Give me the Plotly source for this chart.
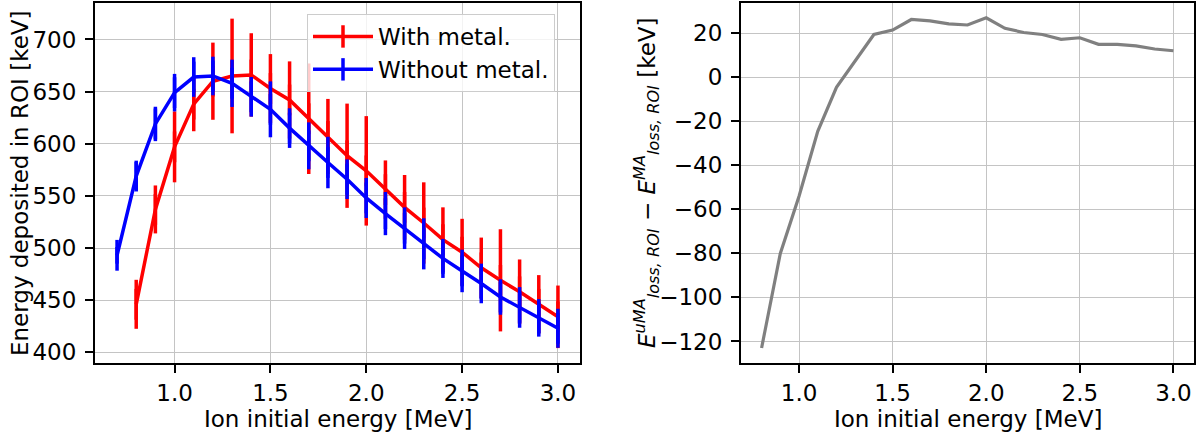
import plotly.graph_objects as go
from plotly.subplots import make_subplots

# ---- data ----
energy_with = [0.8, 0.9, 1.0, 1.1, 1.2, 1.3, 1.4, 1.5, 1.6, 1.7, 1.8, 1.9, 2.0,
               2.1, 2.2, 2.3, 2.4, 2.5, 2.6, 2.7, 2.8, 2.9, 3.0]
with_metal = [446, 537, 597, 638, 660, 665, 666, 653, 642, 624, 607, 588.5, 574,
              556, 539, 524, 508, 496, 481, 469, 458, 446, 434]
with_metal_err = [23.5, 23, 34, 26, 37, 55, 40, 33, 37, 53, 36, 50, 52.5,
                  28, 31, 39, 31, 32, 29, 49, 31, 28, 30]

energy_without = [0.7, 0.8, 0.9, 1.0, 1.1, 1.2, 1.3, 1.4, 1.5, 1.6, 1.7, 1.8, 1.9,
                  2.0, 2.1, 2.2, 2.3, 2.4, 2.5, 2.6, 2.7, 2.8, 2.9, 3.0]
without_metal = [493, 569, 619, 649, 664, 665, 658, 645, 633, 615, 598, 582, 566,
                 548, 533, 519, 504, 490, 478, 466, 453, 443, 433, 423]
without_metal_err = [8, 13.5, 16.5, 18, 19, 18.5, 22.7, 19, 26.8, 19, 22.5, 24.7, 19,
                     19.2, 20.7, 20, 24.5, 18.7, 20.4, 19, 17, 19.5, 18, 18.7]

energy_diff = [0.8, 0.9, 1.0, 1.1, 1.2, 1.3, 1.4, 1.5, 1.6, 1.7, 1.8, 1.9, 2.0,
               2.1, 2.2, 2.3, 2.4, 2.5, 2.6, 2.7, 2.8, 2.9, 3.0]
diff_values = [-123, -80, -54, -24.5, -4.5, 7.2, 19.5, 21.5, 26.3, 25.7, 24.3, 23.8, 27.1,
               22.3, 20.4, 19.5, 17.3, 18, 15, 15, 14.3, 12.9, 12.1]

W, H = 1198, 437
FONT = "DejaVu Sans"
FS = 23
LW = 3.5

fig = make_subplots(rows=1, cols=2)

fig.add_trace(go.Scatter(
    x=energy_with, y=with_metal, name="With metal.", mode="lines+markers",
    line=dict(color="#ff0000", width=LW),
    marker=dict(symbol="line-ns", size=22, color="#ff0000",
                line=dict(color="#ff0000", width=LW)),
    error_y=dict(type="data", array=with_metal_err, visible=True,
                 color="#ff0000", thickness=LW, width=0),
), row=1, col=1)

fig.add_trace(go.Scatter(
    x=energy_without, y=without_metal, name="Without metal.", mode="lines+markers",
    line=dict(color="#0000ff", width=LW),
    marker=dict(symbol="line-ns", size=22, color="#0000ff",
                line=dict(color="#0000ff", width=LW)),
    error_y=dict(type="data", array=without_metal_err, visible=True,
                 color="#0000ff", thickness=LW, width=0),
), row=1, col=1)

fig.add_trace(go.Scatter(
    x=energy_diff, y=diff_values, mode="lines", showlegend=False,
    line=dict(color="#808080", width=3.2),
), row=1, col=2)

axis_common = dict(
    showline=True, linecolor="black", linewidth=2, mirror=True,
    ticks="outside", ticklen=8, tickwidth=2, tickcolor="black",
    showgrid=True, gridcolor="#c4c4c4", gridwidth=1, zeroline=False,
    tickfont=dict(family=FONT, size=FS, color="black"),
    automargin=False,
)

y0 = 1 - 363 / H
y1 = 1 - 3 / H
fig.update_xaxes(**axis_common)
fig.update_yaxes(**axis_common)
fig.update_xaxes(ticklabelstandoff=0)
fig.update_yaxes(ticklabelstandoff=4)
fig.update_layout(
    template="none",
    xaxis=dict(domain=[95 / W, 580 / W], range=[0.585, 3.115],
               tickvals=[1.0, 1.5, 2.0, 2.5, 3.0], tickformat=".1f"),
    yaxis=dict(domain=[y0, y1], range=[389.7, 735], dtick=50, tick0=400),
    xaxis2=dict(domain=[741 / W, 1194 / W], range=[0.69, 3.11],
                tickvals=[1.0, 1.5, 2.0, 2.5, 3.0], tickformat=".1f"),
    yaxis2=dict(domain=[y0, y1], range=[-129.8, 33.8], dtick=20, tick0=0),
)

ann_font = dict(family=FONT, size=FS, color="black")
annotations = [
    dict(text="Ion initial energy [MeV]", x=(95 + 580) / 2 / W, y=1 - 419 / H,
         xref="paper", yref="paper", showarrow=False, font=ann_font,
         xanchor="center", yanchor="middle"),
    dict(text="Ion initial energy [MeV]", x=(741 + 1194) / 2 / W, y=1 - 419 / H,
         xref="paper", yref="paper", showarrow=False, font=ann_font,
         xanchor="center", yanchor="middle"),
    dict(text="Energy deposited in ROI [keV]", x=20 / W, y=1 - 183 / H,
         xref="paper", yref="paper", showarrow=False, font=ann_font,
         textangle=-90, xanchor="center", yanchor="middle"),
    dict(text="<i>E</i><sup><i>uMA</i></sup><sub><i>loss, ROI</i></sub> \u2212 "
              "<i>E</i><sup><i>MA</i></sup><sub><i>loss, ROI</i></sub> [keV]",
         x=646 / W, y=1 - 183 / H,
         xref="paper", yref="paper", showarrow=False, font=ann_font,
         textangle=-90, xanchor="center", yanchor="middle"),
]

fig.update_layout(
    width=W, height=H,
    margin=dict(l=0, r=0, t=0, b=0, autoexpand=False),
    paper_bgcolor="white", plot_bgcolor="white",
    font=dict(family=FONT, size=FS, color="black"),
    annotations=annotations,
    legend=dict(
        x=307 / W, xanchor="left", y=1 - 14 / H, yanchor="top",
        bgcolor="rgba(255,255,255,0.8)", bordercolor="#cccccc", borderwidth=1,
        font=dict(family=FONT, size=FS, color="black"),
        itemwidth=60,
    ),
)

fig.write_html(
    "out.html",
    config={"displayModeBar": False},
    post_script="document.body.style.margin='0';document.body.style.padding='0';",
)
